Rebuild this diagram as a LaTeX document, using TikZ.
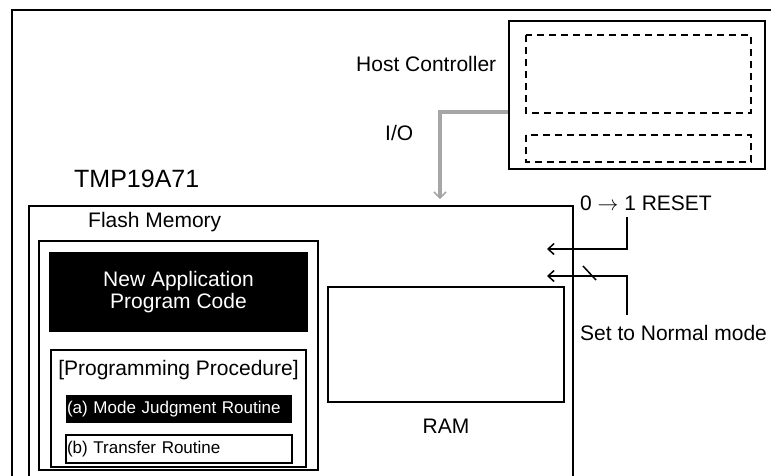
\documentclass[tikz,border=0pt]{standalone}
\usepackage{fontspec}
\setmainfont{Liberation Sans}
\usetikzlibrary{arrows.meta}
\begin{document}
\begin{tikzpicture}[x=1pt,y=-1pt,
  lbl/.style={inner sep=0pt,font=\fontsize{21}{22}\selectfont},
  small/.style={inner sep=0pt,font=\fontsize{17}{20}\selectfont},
  dashbox/.style={draw,line width=1.5pt,dash pattern=on 7pt off 5pt},
  tip/.style={-{Straight Barb[length=6pt,width=11pt]}}]
\useasboundingbox (0,0) rectangle (771,475);
% outer frame
\draw[line width=2pt] (12,476) -- (12,10) -- (772,10);
% host controller
\draw[line width=2.5pt] (509,21) rectangle (765,169);
\draw[dashbox] (526,35) rectangle (751,113);
\draw[dashbox] (526,135) rectangle (751,162);
\node[lbl,anchor=base west] (host) at (356,71) {Host Controller};
\node[lbl,anchor=base west] (io) at (385,140) {I/O};
% gray I/O arrow
\coordinate (g1) at (508,112);
\coordinate (g2) at (440,199);
\draw[line width=3.5pt,color=black!35,-{Straight Barb[length=6pt,width=12pt,line width=1.5pt]}] (g1) -| (g2);
% chip
\node[inner sep=0pt,anchor=base west,font=\fontsize{25}{28}\selectfont] (tmp) at (74,187) {TMP19A71};
\draw[line width=1.5pt] (29,476) -- (29,206) -- (573,206) -- (573,476);
\node[lbl,anchor=base west] (flash) at (88,227) {Flash Memory};
\draw[line width=2pt] (39,241) rectangle (318,470);
\node[fill=black,text=white,lbl,minimum width=259pt,minimum height=80pt,align=center] (newapp) at (178.5,292) {New Application\\Program Code};
\draw[line width=1.5pt] (51,350) rectangle (306,467);
\node[lbl,anchor=base] (proc) at (178.5,375) {[Programming Procedure]};
\node[fill=black,text=white,small,minimum width=226pt,minimum height=28pt,text width=224pt,inner xsep=1pt] (ra) at (179,409) {(a) Mode Judgment Routine};
\node[draw,line width=1.5pt,small,minimum width=226pt,minimum height=28pt,text width=224pt,inner xsep=1pt] (rb) at (179,449) {(b) Transfer Routine};
\draw[line width=1.5pt] (328,287) rectangle (564,402);
\node[lbl,anchor=base] (ram) at (446,433) {RAM};
% signals
\node[lbl,anchor=base west] (reset) at (580,210) {0 $\rightarrow$ 1 RESET};
\node[lbl,anchor=base west] (normal) at (580,340) {Set to Normal mode};
\coordinate (r1) at (627,217);
\coordinate (r2) at (547,249);
\coordinate (n1) at (627,315);
\coordinate (n2) at (547,276);
\draw[line width=1.5pt,tip] (r1) |- (r2);
\draw[line width=1.5pt,tip] (n1) |- (n2);
\draw[line width=1.5pt] (583,266) -- (596,280);
\end{tikzpicture}
\end{document}
